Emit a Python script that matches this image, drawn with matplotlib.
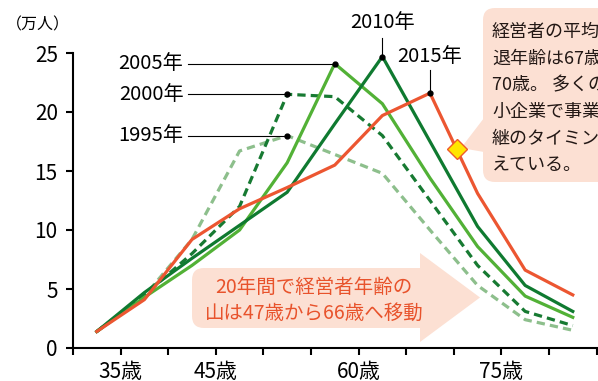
import numpy as np
import matplotlib
matplotlib.use("Agg")
import matplotlib.pyplot as plt
import matplotlib.transforms as mtransforms
from matplotlib.patches import FancyBboxPatch, Polygon

plt.rcParams['font.family'] = ['Noto Sans CJK JP', 'DejaVu Sans']

# age group midpoints (years) and number of managers (10k people)
ages = [32.5, 37.5, 42.5, 47.5, 52.5, 57.5, 62.5, 67.5, 72.5, 77.5, 82.5]
y1995 = [1.4, 4.4, 9.2, 16.7, 18.0, 16.4, 14.8, 10.0, 5.3, 2.4, 1.5]
y2000 = [1.4, 4.5, 8.0, 12.0, 21.5, 21.3, 18.0, 12.5, 7.0, 3.1, 1.9]
y2005 = [1.4, 4.3, 7.0, 10.0, 15.7, 24.1, 20.7, 14.4, 8.6, 4.4, 2.6]
y2010 = [1.4, 4.7, 7.6, 10.4, 13.2, 19.0, 24.7, 17.5, 10.3, 5.3, 3.1]
y2015 = [1.4, 4.1, 9.2, 11.8, 13.6, 15.5, 19.7, 21.6, 13.1, 6.6, 4.5]

xticks = [30, 35, 40, 45, 50, 55, 60, 65, 70, 75, 80, 85]
xlabels = ['', '35歳', '', '45歳', '', '', '60歳', '', '', '75歳', '', '']
yticks = [0, 5, 10, 15, 20, 25]

box_lines = ['経営者の平均引', '退年齢は67歳～', '70歳。 多くの中', '小企業で事業承',
             '継のタイミングを迎', 'えている。']
arrow_lines = ['20年間で経営者年齢の', '山は47歳から66歳へ移動']

c1995 = '#8dbf8c'
c2000 = '#177a32'
c2005 = '#52b136'
c2010 = '#0f7a30'
c2015 = '#ec5631'
peach = '#fce0d3'

W, H = 598, 381
fig = plt.figure(figsize=(W / 100, H / 100), dpi=100)
ax = fig.add_axes([73 / W, 1 - 348 / H, 525 / W, 295 / H])
# pixel coordinates measured from the top-left corner
pix = mtransforms.Affine2D().scale(1 / 100, -1 / 100).translate(0, H / 100) + fig.dpi_scale_trans

lw = 2.3
ax.plot(ages, y1995, color=c1995, lw=lw, dashes=(2.6, 1.6))
ax.plot(ages, y2000, color=c2000, lw=lw, dashes=(2.6, 1.6))
ax.plot(ages, y2005, color=c2005, lw=lw)
ax.plot(ages, y2010, color=c2010, lw=lw)
ax.plot(ages, y2015, color=c2015, lw=lw)

# big arrow behind the lines
body = FancyBboxPatch((192, 268), 240, 60, boxstyle='round,pad=0,rounding_size=12',
                      transform=pix, fc=peach, ec='none', clip_on=False, zorder=0)
head = Polygon([(420, 253), (480, 297.5), (420, 342)], closed=True, transform=pix,
               fc=peach, ec='none', clip_on=False, zorder=0)
ax.add_patch(body)
ax.add_patch(head)
for i, s in enumerate(arrow_lines):
    ax.text(314, 287 + i * 26, s, transform=pix, ha='center', va='center',
            fontsize=14, color='#e8532c', zorder=1)

# leader lines and dots at the peaks
label_end = 41.6
for yr, ys in [('2005', y2005), ('2000', y2000), ('1995', y1995)]:
    k = int(np.argmax(ys))
    ax.plot([label_end + 0.5, ages[k]], [ys[k], ys[k]], color='black', lw=0.8, zorder=3)
    ax.plot(ages[k], ys[k], 'o', color='black', ms=3.5, zorder=4)
    ax.text(label_end, ys[k], yr + '年', ha='right', va='center', fontsize=14.5)

for yr, ys, top, ty in [('2010', y2010, 26.3, 27.6), ('2015', y2015, 23.6, 24.7)]:
    k = int(np.argmax(ys))
    ax.plot([ages[k], ages[k]], [ys[k], top], color='black', lw=0.8, zorder=3, clip_on=False)
    ax.plot(ages[k], ys[k], 'o', color='black', ms=3.5, zorder=4, clip_on=False)
    ax.text(ages[k], ty, yr + '年', ha='center', va='center', fontsize=14.5)

# callout box (runs off the right edge, as in the original)
box = FancyBboxPatch((483, 8), 140, 174, boxstyle='round,pad=0,rounding_size=12',
                     transform=pix, fc=peach, ec='none', clip_on=False, zorder=5)
ptr = Polygon([(484, 118), (484, 152), (461, 148)], closed=True, transform=pix,
              fc=peach, ec='none', clip_on=False, zorder=5)
ax.add_patch(box)
ax.add_patch(ptr)
for i, s in enumerate(box_lines):
    ax.text(492, 32 + i * 26.6, s, transform=pix, ha='left', va='center',
            fontsize=13, color='#231815', zorder=6)

dx = 70.3
ax.plot(dx, np.interp(dx, ages, y2015), 'D', ms=10, mfc='#ffe500', mec='#ee5a2a',
        mew=1.0, zorder=7)

ax.text(6, 25, '（万人）', transform=pix, ha='left', va='center', fontsize=11.5)

ax.set_xlim(30, 85.15)
ax.set_ylim(0, 25)
ax.set_xticks(xticks)
ax.set_xticklabels(xlabels)
ax.set_yticks(yticks)
for s in ['top', 'right']:
    ax.spines[s].set_visible(False)
for s in ['left', 'bottom']:
    ax.spines[s].set_linewidth(1.5)
ax.tick_params(axis='both', length=5, width=1.5, labelsize=15)
ax.tick_params(axis='y', pad=6)
ax.tick_params(axis='x', pad=4)

fig.savefig('out.png', dpi=100)
